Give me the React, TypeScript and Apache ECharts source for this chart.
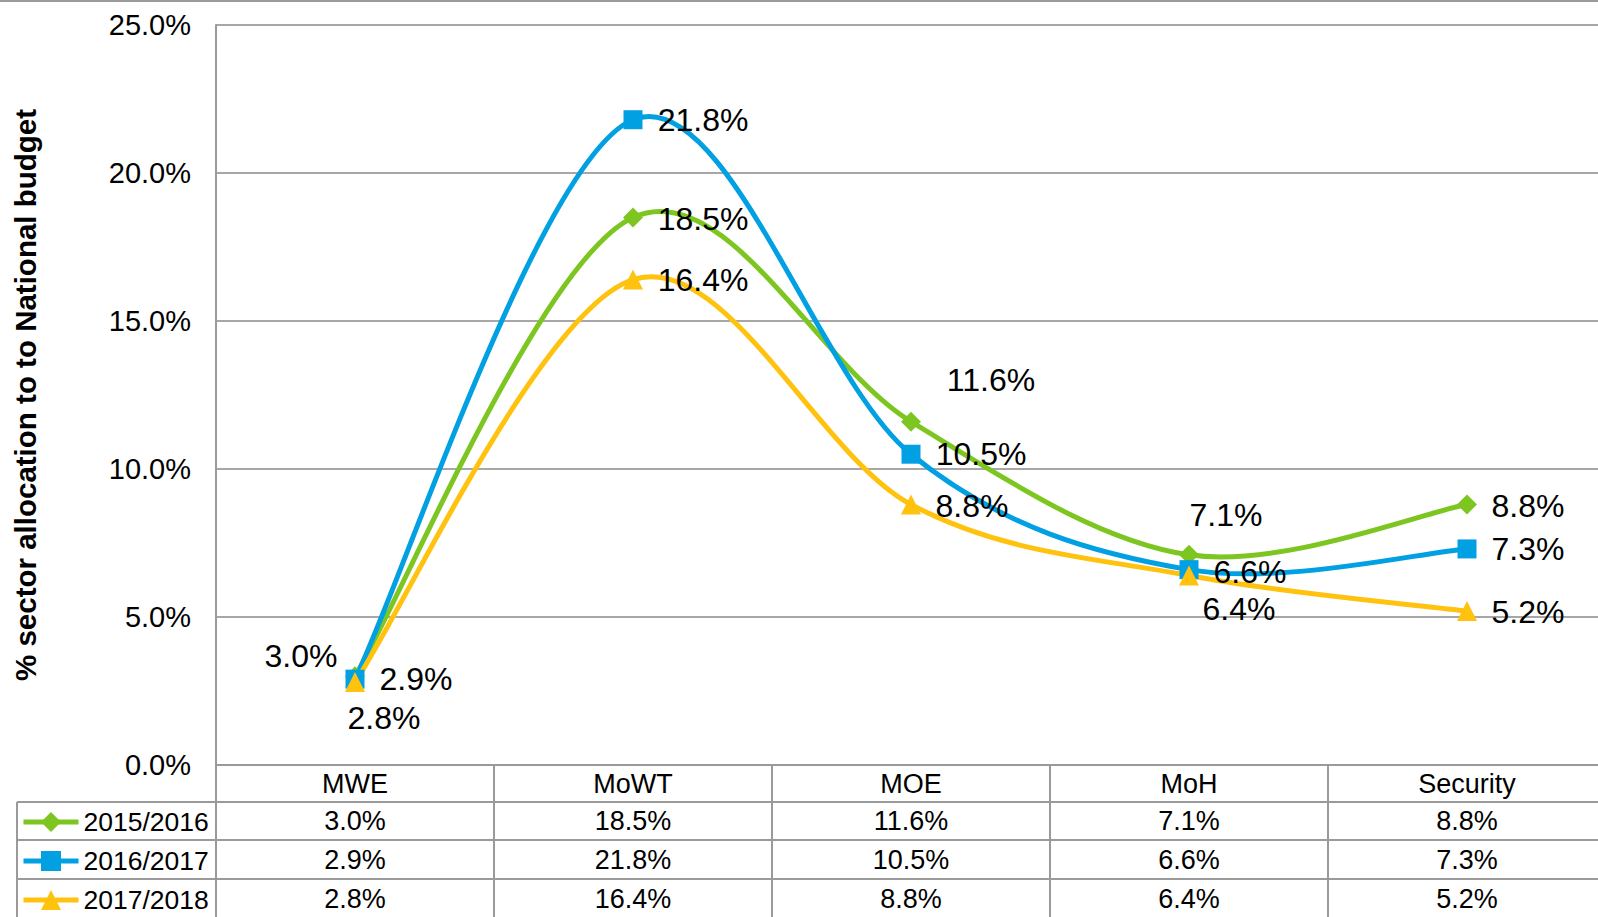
import React, { useEffect, useRef } from "react";
import * as echarts from "echarts";

const categories = ["MWE", "MoWT", "MOE", "MoH", "Security"];
const seriesNames = ["2015/2016", "2016/2017", "2017/2018"];
const values2015 = [3.0, 18.5, 11.6, 7.1, 8.8];
const values2016 = [2.9, 21.8, 10.5, 6.6, 7.3];
const values2017 = [2.8, 16.4, 8.8, 6.4, 5.2];
const yMin = 0;
const yMax = 25;
const yStep = 5;

const FONT = '"Liberation Sans", Arial, sans-serif';
const GRID_C = "#8a8a8a";
const TABLE_C = "#9a9a9a";
const COLORS = ["#7DC622", "#00A0E3", "#FFC20E"];
const SYMBOLS = ["diamond", "rect", "triangle"];
const SYMBOL_SIZES = [20, 19, 20];
const LINE_W = 5;

// label offsets (px) relative to each marker centre
const labelOffsets = [
  [[-54, -20], [70, 2], [80, -42], [37, -40], [61, 1]],
  [[61, 0], [70, 0], [70, 0], [61, 2], [61, 0]],
  [[29, 36], [70, 0], [61, 1], [50, 33], [61, 1]],
];

const fmt = (v: number) => v.toFixed(1) + "%";

// Catmull-Rom style smoothing (similar to spreadsheet smoothed lines)
function smoothPath(pts: number[][]) {
  let d = `M${pts[0][0]},${pts[0][1]}`;
  for (let i = 0; i < pts.length - 1; i++) {
    const p0 = pts[i - 1] || pts[i];
    const p1 = pts[i];
    const p2 = pts[i + 1];
    const p3 = pts[i + 2] || pts[i + 1];
    const c1x = p1[0] + (p2[0] - p0[0]) / 6;
    const c1y = p1[1] + (p2[1] - p0[1]) / 6;
    const c2x = p2[0] - (p3[0] - p1[0]) / 6;
    const c2y = p2[1] - (p3[1] - p1[1]) / 6;
    d += ` C${c1x},${c1y} ${c2x},${c2y} ${p2[0]},${p2[1]}`;
  }
  return d;
}

export default function App() {
  const ref = useRef<HTMLDivElement>(null);
  useEffect(() => {
    if (!ref.current) return;
    document.body.style.overflow = "hidden";
    const chart = echarts.init(ref.current, undefined, { renderer: "svg" });
    const allValues = [values2015, values2016, values2017];

    const gridLeft = 216;
    const gridTop = 25;
    const gridHeight = 740;
    const gridWidth = 1390;
    const rowOffsets = [37, 75, 114];
    const rowCenters = [821, 860, 899];

    const baseXAxis = {
      type: "category",
      data: categories,
      gridIndex: 0,
      position: "bottom",
      boundaryGap: true,
      axisLine: { show: true, lineStyle: { color: TABLE_C, width: 2 } },
      splitLine: { show: false },
    };

    const xAxes: any[] = [
      {
        ...baseXAxis,
        offset: 0,
        axisTick: { show: true, interval: 0, alignWithLabel: false, length: 37, lineStyle: { color: TABLE_C, width: 2 } },
        axisLabel: { interval: 0, margin: 19, verticalAlign: "middle", fontSize: 27, color: "#000", fontFamily: FONT },
      },
      ...allValues.map((vals, r) => ({
        ...baseXAxis,
        offset: rowOffsets[r],
        axisTick: {
          show: true,
          interval: 0,
          alignWithLabel: false,
          length: r === 2 ? 40 : 39,
          lineStyle: { color: TABLE_C, width: 2 },
        },
        axisLabel: {
          interval: 0,
          margin: r === 0 ? 19 : 20,
          verticalAlign: "middle",
          fontSize: 27,
          color: "#000",
          fontFamily: FONT,
          formatter: (_v: string, idx: number) => fmt(vals[idx]),
        },
      })),
    ];

    const series: any[] = [];
    allValues.forEach((vals, s) => {
      series.push({
        type: "custom",
        xAxisIndex: 0,
        yAxisIndex: 0,
        clip: false,
        silent: true,
        encode: { x: 0, y: 1 },
        data: vals.map((v, i) => [i, v]),
        renderItem: (params: any, api: any) => {
          if (params.dataIndex !== 0) return null;
          const pts = vals.map((v, i) => api.coord([i, v]));
          return {
            type: "path",
            shape: { pathData: smoothPath(pts) },
            style: { fill: "none", stroke: COLORS[s], lineWidth: LINE_W, lineJoin: "round" },
            silent: true,
          };
        },
      });
      series.push({
        type: "line",
        name: seriesNames[s],
        xAxisIndex: 0,
        yAxisIndex: 0,
        symbol: SYMBOLS[s],
        symbolSize: SYMBOL_SIZES[s],
        lineStyle: { width: LINE_W, color: COLORS[s], opacity: 0 },
        itemStyle: { color: COLORS[s] },
        label: {
          show: true,
          position: "inside",
          fontSize: 32,
          color: "#000",
          fontFamily: FONT,
          formatter: (p: any) => fmt(p.value),
        },
        data: vals.map((v, i) => ({ value: v, label: { offset: labelOffsets[s][i] } })),
      });
    });

    const legends = seriesNames.map((n, i) => ({
      data: [n],
      left: 21,
      top: rowCenters[i] - 12.5,
      orient: "horizontal",
      itemWidth: 55,
      itemHeight: 25,
      padding: 0,
      itemGap: 0,
      selectedMode: false,
      lineStyle: { width: LINE_W, color: COLORS[i], opacity: 1 },
      textStyle: { fontSize: 26.5, color: "#000", fontFamily: FONT },
    }));

    const line = (x1: number, y1: number, x2: number, y2: number) => ({
      type: "line",
      shape: { x1, y1, x2, y2 },
      style: { stroke: TABLE_C, lineWidth: 2 },
      silent: true,
    });

    chart.setOption({
      animation: false,
      backgroundColor: "#fff",
      textStyle: { fontFamily: FONT },
      grid: { left: gridLeft, top: gridTop, width: gridWidth, height: gridHeight },
      xAxis: xAxes,
      yAxis: {
        type: "value",
        min: yMin,
        max: yMax,
        interval: yStep,
        name: "% sector allocation to to National budget",
        nameLocation: "middle",
        nameRotate: 90,
        nameGap: 176,
        nameTextStyle: { fontSize: 29.5, fontWeight: "bold", color: "#000", fontFamily: FONT },
        axisLine: { show: true, lineStyle: { color: TABLE_C, width: 2 } },
        axisTick: { show: false },
        splitLine: { show: true, lineStyle: { color: GRID_C, width: 1.5 } },
        axisLabel: { fontSize: 29, color: "#000", margin: 25, fontFamily: FONT, formatter: (v: number) => fmt(v) },
      },
      legend: legends,
      series,
      graphic: [
        line(0, 1, 1598, 1),
        line(17, 802, 17, 917),
        line(17, 802, gridLeft, 802),
        line(17, 840, gridLeft, 840),
        line(17, 879, gridLeft, 879),
        line(gridLeft, 765, gridLeft, 917),
      ],
    });
    return () => chart.dispose();
  }, []);
  return (
    <div
      ref={ref}
      style={{ position: "fixed", left: 0, top: 0, width: 1610, height: 917, background: "#fff" }}
    />
  );
}
